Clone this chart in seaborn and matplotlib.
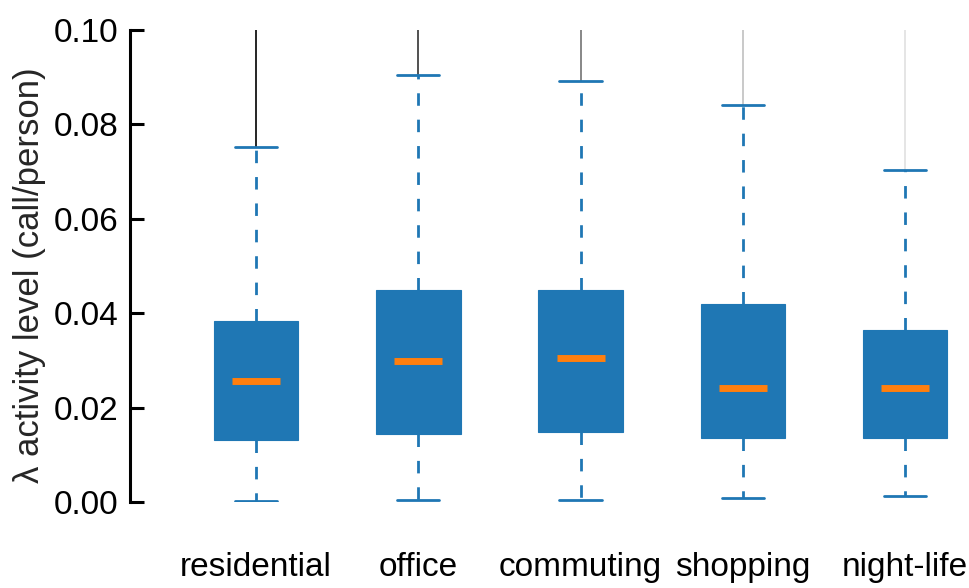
import matplotlib
matplotlib.use("Agg")
import matplotlib.pyplot as plt
import seaborn as sns

# Per-category box statistics (call/person)
categories = ["residential", "office", "commuting", "shopping", "night-life"]
whisker_low = [0.0002, 0.0004, 0.0004, 0.0008, 0.0013]
q1 = [0.0131, 0.0144, 0.0148, 0.0136, 0.0136]
medians = [0.0257, 0.0299, 0.0305, 0.0242, 0.0242]
q3 = [0.0383, 0.0450, 0.0449, 0.0420, 0.0364]
whisker_high = [0.0752, 0.0905, 0.0892, 0.0841, 0.0703]
# outliers run above the top of the axis
outlier_max = [0.12, 0.12, 0.12, 0.12, 0.12]
outlier_density = [1.0, 0.8, 0.55, 0.25, 0.12]
yticks = [0.00, 0.02, 0.04, 0.06, 0.08, 0.10]

sns.set_theme(style="white")
plt.rcParams["font.family"] = ["Liberation Sans", "DejaVu Sans"]

fig = plt.figure(figsize=(9.7, 5.88), dpi=100)
ax = fig.add_axes([0.134, 0.1463, 0.866, 0.8027])

blue = "#1f77b4"
orange = "#ff7f0e"
positions = list(range(len(categories)))

stats = []
for i, name in enumerate(categories):
    stats.append(dict(label=name, whislo=whisker_low[i], q1=q1[i], med=medians[i],
                      q3=q3[i], whishi=whisker_high[i], fliers=[]))

# outliers: a dense column of points above the upper whisker
for x, top, hi, a in zip(positions, outlier_max, whisker_high, outlier_density):
    ax.vlines(x, hi, top, color="black", lw=1.2, alpha=a, zorder=1)

ax.bxp(stats, positions=positions, widths=0.52, patch_artist=True,
       showfliers=False,
       boxprops=dict(facecolor=blue, edgecolor=blue, linewidth=0.8),
       whiskerprops=dict(color=blue, linewidth=2.0, linestyle=(0, (4.5, 5))),
       capprops=dict(color=blue, linewidth=2.0),
       medianprops=dict(linewidth=0))

ax.hlines(medians, [p - 0.148 for p in positions], [p + 0.148 for p in positions],
          color=orange, lw=5, zorder=4)

ax.set_ylim(0, 0.10)
ax.set_xlim(-0.777, 4.40)
ax.set_yticks(yticks)
ax.set_yticklabels([f"{t:.2f}" for t in yticks])
ax.set_xticks(positions)
ax.set_xticklabels(categories)
ax.set_ylabel("λ activity level (call/person)", fontsize=25)
ax.yaxis.set_label_coords(-0.100, 0.481)

ax.tick_params(axis="y", direction="in", length=10, width=2.2, labelsize=24, pad=8,
               left=True, color="black", labelcolor="black")
ax.tick_params(axis="x", length=0, labelsize=24, pad=36, labelcolor="black")

sns.despine(ax=ax, top=True, right=True, bottom=True, left=False)
ax.spines["left"].set_linewidth(2.2)
ax.spines["left"].set_color("black")
ax.grid(False)

fig.savefig("out.png", dpi=100)
